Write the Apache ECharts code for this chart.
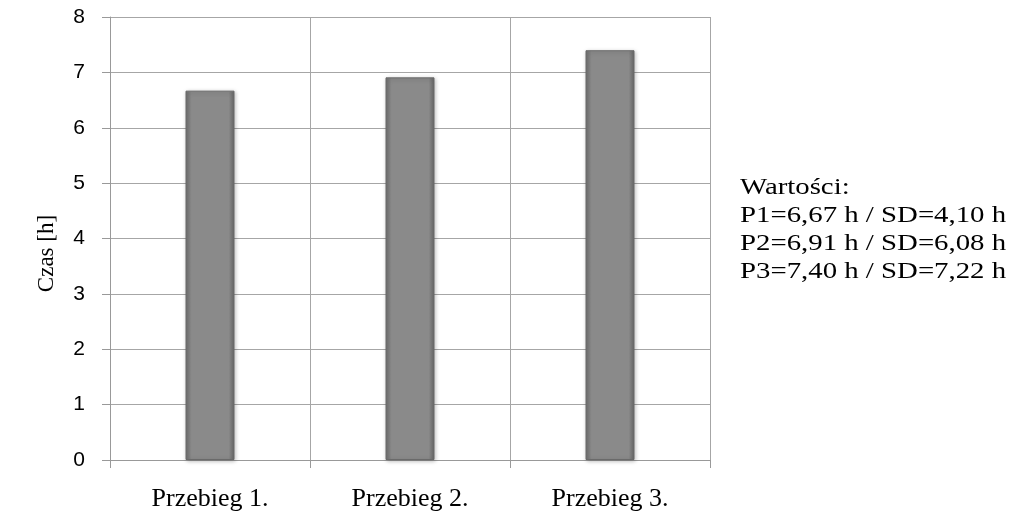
<!DOCTYPE html>
<html><head><meta charset="utf-8">
<script src="https://cdn.jsdelivr.net/npm/echarts@6/dist/echarts.min.js"></script>
<style>html,body{margin:0;padding:0;background:#fff}#c{width:1013px;height:513px}</style>
</head><body><div id="c"></div>
<script>
const categories = ['Przebieg 1.', 'Przebieg 2.', 'Przebieg 3.'];
const values = [6.67, 6.91, 7.40];
const sdLabels = ['4,10', '6,08', '7,22'];
const meanLabels = ['6,67', '6,91', '7,40'];
const yTicks = [0, 1, 2, 3, 4, 5, 6, 7, 8];

const chart = echarts.init(document.getElementById('c'));
const textLines = ['Wartości:'].concat(meanLabels.map((m, i) => 'P' + (i + 1) + '=' + m + ' h / SD=' + sdLabels[i] + ' h'));
chart.setOption({
  animation: false,
  grid: { left: 110, right: 303, top: 17, bottom: 53 },
  xAxis: {
    type: 'category', data: categories, boundaryGap: true,
    axisLine: { lineStyle: { color: '#999', width: 1 } },
    axisTick: { show: true, length: 8, lineStyle: { color: '#999' } },
    splitLine: { show: true, lineStyle: { color: '#a6a6a6', width: 1 } },
    axisLabel: { color: '#000', fontFamily: 'Liberation Serif', fontSize: 26, margin: 26 }
  },
  yAxis: {
    type: 'value', min: yTicks[0], max: yTicks[yTicks.length - 1], interval: 1,
    name: 'Czas [h]', nameLocation: 'middle', nameGap: 52, nameRotate: 90,
    nameTextStyle: { color: '#000', fontFamily: 'Liberation Serif', fontSize: 23, padding: [0, 30, 0, 0] },
    axisLine: { show: true, lineStyle: { color: '#999' } },
    axisTick: { show: true, length: 8, lineStyle: { color: '#999' } },
    splitLine: { show: true, lineStyle: { color: '#a6a6a6', width: 1 } },
    axisLabel: { color: '#000', fontFamily: 'Liberation Sans', fontSize: 21, margin: 25 }
  },
  series: [{
    type: 'bar', data: values, barWidth: 49,
    itemStyle: {
      color: new echarts.graphic.LinearGradient(0, 0, 1, 0, [
        { offset: 0, color: '#6e6e6e' },
        { offset: 0.12, color: '#8a8a8a' },
        { offset: 0.88, color: '#8a8a8a' },
        { offset: 1, color: '#666' }
      ]),
      borderColor: '#6a6a6a', borderWidth: 1,
      shadowColor: 'rgba(0,0,0,0.25)', shadowBlur: 4, shadowOffsetX: 1, shadowOffsetY: 1
    }
  }],
  graphic: textLines.map((t, i) => ({
    type: 'text', x: 740, y: 176 + i * 28, scaleX: 1.2,
    style: { text: t, fill: '#000', font: '24px "Liberation Serif"', textVerticalAlign: 'top' }
  }))
});
</script></body></html>
